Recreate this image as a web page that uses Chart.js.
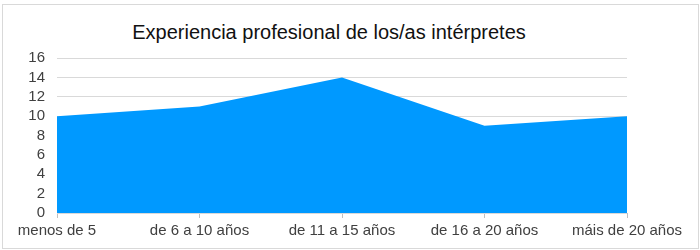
<!DOCTYPE html>
<html>
<head>
<meta charset="utf-8">
<script src="https://cdn.jsdelivr.net/npm/chart.js@4/dist/chart.umd.min.js"></script>
<style>
  body { margin: 0; background: #fff; }
  #wrap { position: relative; width: 700px; height: 250px; }
  #frame { position: absolute; left: 2px; top: 4px; width: 695px; height: 243px; border: 1px solid #d9d9d9; }
  #title { position: absolute; left: 79px; width: 500px; top: 20px; text-align: center; line-height: 24px;
           font-family: "Liberation Sans", Arial, sans-serif; font-size: 20px; color: #111; }
  canvas { position: absolute; left: 0; top: 0; }
</style>
</head>
<body>
<div id="wrap">
  <div id="frame"></div>
  <div id="title">Experiencia profesional de los/as intérpretes</div>
  <canvas id="chart" width="700" height="250"></canvas>
</div>
<script>
  // Data
  const categories = ['menos de 5', 'de 6 a 10 años', 'de 11 a 15 años', 'de 16 a 20 años', 'máis de 20 años'];
  const interpreters = [10, 11, 14, 9, 10];
  const yMax = 16;
  const yStep = 2;

  const font = { family: '"Liberation Sans", Arial, sans-serif', size: 15 };

  const ctx = document.getElementById('chart').getContext('2d');
  new Chart(ctx, {
    type: 'line',
    data: {
      labels: categories,
      datasets: [{
        data: interpreters,
        fill: 'origin',
        backgroundColor: '#0099ff',
        borderWidth: 0,
        pointRadius: 0,
        tension: 0
      }]
    },
    options: {
      responsive: false,
      animation: false,
      layout: { padding: { top: 58, right: 73, left: 0, bottom: 0 } },
      plugins: { legend: { display: false }, tooltip: { enabled: false } },
      scales: {
        x: {
          offset: false,
          grid: { drawOnChartArea: false, drawTicks: true, tickLength: 5, color: '#bfbfbf' },
          border: { display: false },
          ticks: { color: '#404040', font: font, padding: 4, maxRotation: 0, autoSkip: false },
          afterFit: function(scale) { scale.height = 37; }
        },
        y: {
          min: 0,
          max: yMax,
          grid: { color: '#d9d9d9', drawTicks: false },
          border: { display: false },
          ticks: { stepSize: yStep, autoSkip: false, color: '#404040', font: font, padding: 12 },
          afterFit: function(scale) { scale.width = 57; }
        }
      }
    }
  });
</script>
</body>
</html>
